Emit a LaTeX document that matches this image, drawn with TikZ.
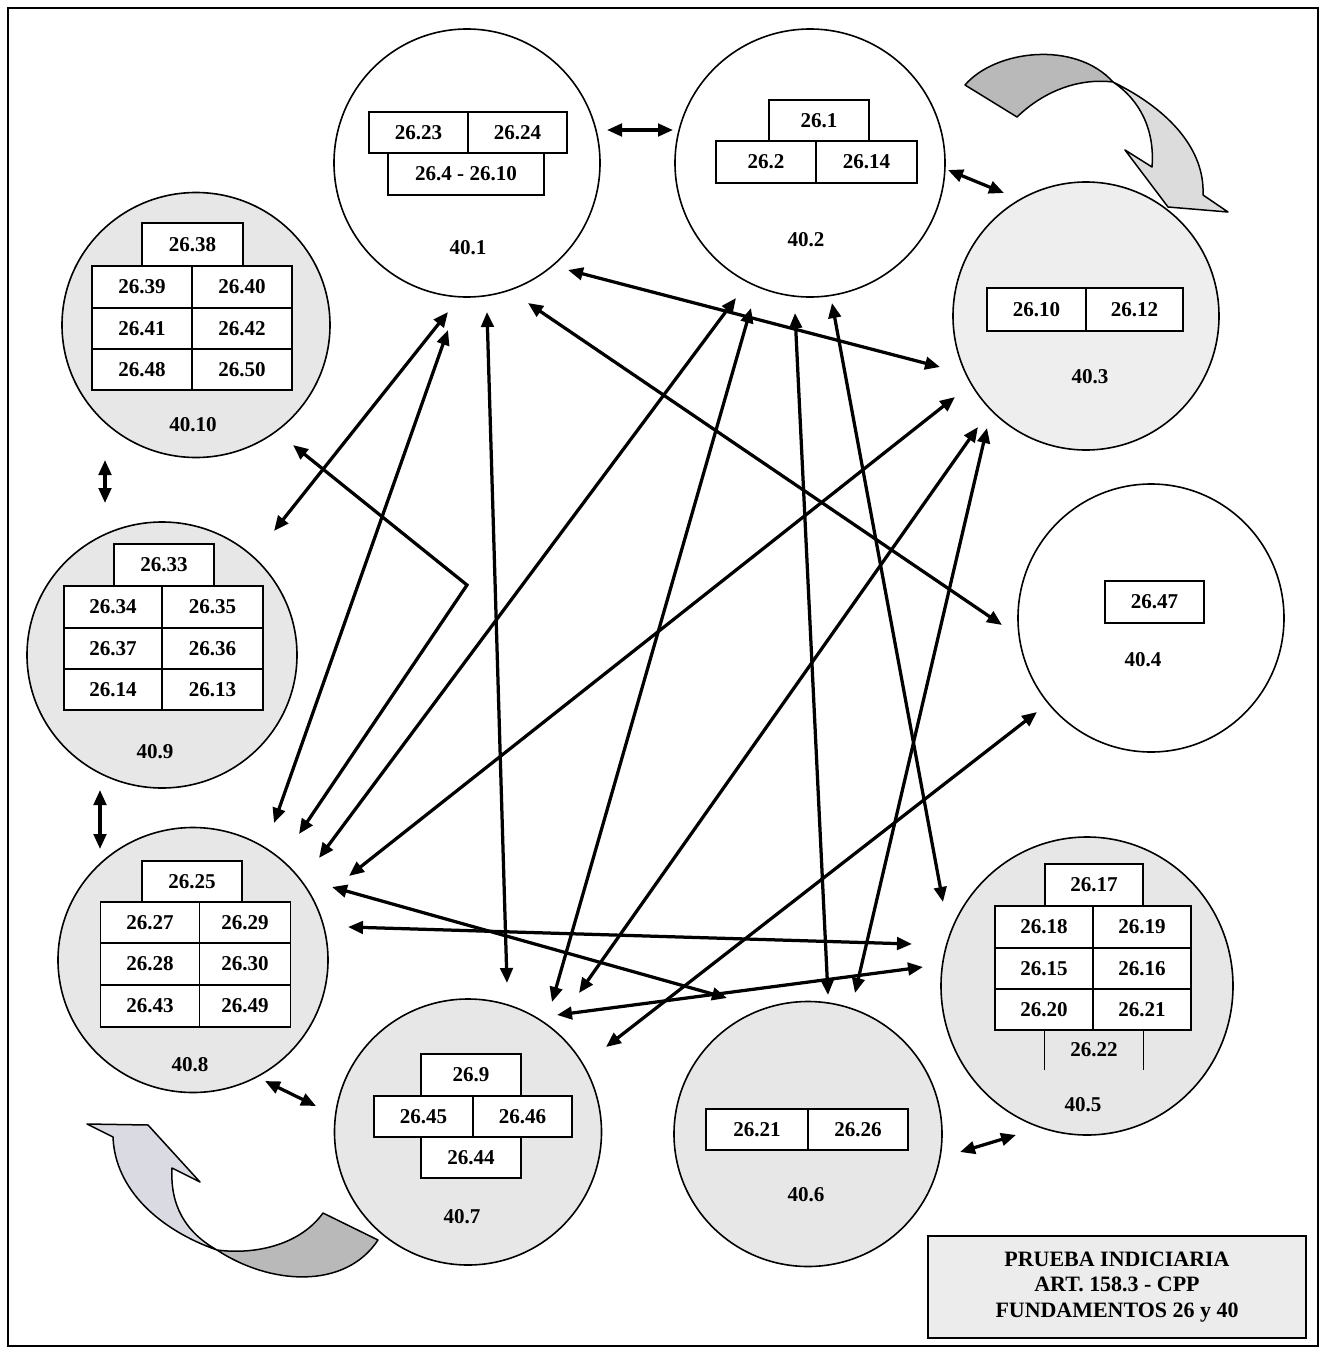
\documentclass[tikz,border=0pt]{standalone}
\usepackage{fontspec}
\setmainfont{Liberation Serif}
\usetikzlibrary{arrows.meta,shapes.geometric}
\newlength{\px}
\setlength{\px}{0.02cm}
\definecolor{bubgray}{HTML}{E7E7E7}
\definecolor{bubgraylight}{HTML}{EEEEEE}
\definecolor{darkbend}{HTML}{B9B9B9}
\definecolor{lightbendA}{HTML}{DCDCDC}
\definecolor{lightbendB}{HTML}{DADAE2}
\definecolor{legendgray}{HTML}{ECECEC}
\tikzset{
  bub/.style 2 args={ellipse, draw, line width=1.6\px, minimum width=#1\px, minimum height=#2\px, inner sep=0pt},
  cell/.style 2 args={draw, fill=white, line width=1.5\px, minimum width=#1\px, minimum height=#2\px, inner sep=0pt, font=\fontsize{12}{13}\selectfont\bfseries},
  lab/.style={font=\fontsize{12}{13}\selectfont\bfseries, inner sep=0pt},
  tipT/.tip={Triangle[length=0.3cm,width=0.25cm]},
  arr/.style={line width=0.065cm, tipT-tipT},
  blockarrow/.style={draw, line width=1.5\px, line join=round}
}
\begin{document}
\begin{tikzpicture}[x=0.02cm,y=-0.02cm]
\useasboundingbox (0,0) rectangle (1325,1356);
\draw[line width=1.8\px] (8,8) rectangle (1318,1346);

% curved block arrows
\path[blockarrow, fill=darkbend] (965,85) .. controls (995,50) and (1075,40) .. (1113,82)
  .. controls (1080,78) and (1045,90) .. (1017,117) -- cycle;
\path[blockarrow, fill=lightbendA] (1113,82) .. controls (1170,110) and (1205,150) .. (1203,195)
  -- (1228,212) -- (1168,207) -- (1125,150) -- (1152,167)
  .. controls (1155,130) and (1140,100) .. (1113,82) -- cycle;
\path[blockarrow, fill=lightbendB] (113,1137) -- (87,1124) -- (148,1125) -- (200,1182) -- (172,1168)
  .. controls (170,1205) and (185,1232) .. (217,1250)
  .. controls (160,1230) and (115,1190) .. (113,1137) -- cycle;
\path[blockarrow, fill=darkbend] (217,1250) .. controls (270,1285) and (345,1290) .. (378,1240)
  -- (323,1213) .. controls (300,1245) and (255,1255) .. (217,1250) -- cycle;

% bubbles
\node[bub={266}{268}, fill=white] (c1) at (467,163) {};
\node[bub={270}{268}, fill=white] (c2) at (810,163) {};
\node[bub={266}{268}, fill=bubgraylight] (c3) at (1086,316) {};
\node[bub={266}{268}, fill=white] (c4) at (1151,618) {};
\node[bub={292}{298}, fill=bubgray] (c5) at (1087,986) {};
\node[bub={268}{265}, fill=bubgray] (c6) at (808,1134) {};
\node[bub={267}{266}, fill=bubgray] (c7) at (468,1132) {};
\node[bub={270}{265}, fill=bubgray] (c8) at (193,960) {};
\node[bub={270}{266}, fill=bubgray] (c9) at (162,655) {};
\node[bub={268}{265}, fill=bubgray] (c10) at (196,325) {};

% 40.1
\node[cell={99}{41}] (c1a) at (418.5,132.5) {26.23};
\node[cell={99}{41}] (c1b) at (517.5,132.5) {26.24};
\node[cell={156}{42}] (c1c) at (466,174) {26.4 - 26.10};
\node[lab] (l1) at (468,248) {40.1};
% 40.2
\node[cell={100}{41}] (c2a) at (819,120.5) {26.1};
\node[cell={100}{42}] (c2b) at (766,162) {26.2\hspace{10\px}};
\node[cell={101}{42}] (c2c) at (866.5,162) {26.14};
\node[lab] (l2) at (806,240) {40.2};
% 40.3
\node[cell={99}{43}] (c3a) at (1036.5,309.5) {26.10};
\node[cell={97}{43}] (c3b) at (1134.5,309.5) {26.12};
\node[lab] (l3) at (1090,377) {40.3};
% 40.4
\node[cell={99}{42}] (c4a) at (1154.5,602) {26.47};
\node[lab] (l4) at (1143,660) {40.4};
% 40.5
\node[cell={98}{42}] (c5a) at (1094,885) {26.17};
\node[cell={98}{42}] (c5b) at (1044,927) {26.18};
\node[cell={98}{42}] (c5c) at (1142,927) {26.19};
\node[cell={98}{41}] (c5d) at (1044,968.5) {26.15};
\node[cell={98}{41}] (c5e) at (1142,968.5) {26.16};
\node[cell={98}{41}] (c5f) at (1044,1009.5) {26.20};
\node[cell={98}{41}] (c5g) at (1142,1009.5) {26.21};
\node[lab, minimum width=98\px, minimum height=40\px] (c5h) at (1094,1050) {26.22};
\draw[line width=1.5\px] (c5h.north west) -- (c5h.south west) (c5h.north east) -- (c5h.south east);
\node[lab] (l5) at (1083,1105) {40.5};
% 40.6
\node[cell={102}{41}] (c6a) at (757,1129.5) {26.21};
\node[cell={100}{41}] (c6b) at (858,1129.5) {26.26};
\node[lab] (l6) at (806,1195) {40.6};
% 40.7
\node[cell={100}{42}] (c7a) at (471,1075) {26.9};
\node[cell={99}{41}] (c7b) at (423.5,1116.5) {26.45};
\node[cell={99}{41}] (c7c) at (522.5,1116.5) {26.46};
\node[cell={100}{41}] (c7d) at (471,1157.5) {26.44};
\node[lab] (l7) at (462,1217) {40.7};
% 40.8
\node[cell={100}{41}] (c8a) at (192,881.5) {26.25};
\node[cell={99}{41}] (c8b) at (150,922.5) {26.27};
\node[cell={91}{41}] (c8c) at (245,922.5) {26.29};
\node[cell={99}{42}] (c8d) at (150,964) {26.28};
\node[cell={91}{42}] (c8e) at (245,964) {26.30};
\node[cell={99}{42}] (c8f) at (150,1006) {26.43};
\node[cell={91}{42}] (c8g) at (245,1006) {26.49};
\node[lab] (l8) at (190,1065) {40.8};
% 40.9
\node[cell={100}{42}] (c9a) at (164,565) {26.33};
\node[cell={98}{42}] (c9b) at (113,607) {26.34};
\node[cell={101}{42}] (c9c) at (212.5,607) {26.35};
\node[cell={98}{41}] (c9d) at (113,648.5) {26.37};
\node[cell={101}{41}] (c9e) at (212.5,648.5) {26.36};
\node[cell={98}{41}] (c9f) at (113,689.5) {26.14};
\node[cell={101}{41}] (c9g) at (212.5,689.5) {26.13};
\node[lab] (l9) at (155,752) {40.9};
% 40.10
\node[cell={101}{43}] (c10a) at (192.5,244.5) {26.38};
\node[cell={100}{42}] (c10b) at (142,287) {26.39};
\node[cell={100}{42}] (c10c) at (242,287) {26.40};
\node[cell={100}{41}] (c10d) at (142,328.5) {26.41};
\node[cell={100}{41}] (c10e) at (242,328.5) {26.42};
\node[cell={100}{41}] (c10f) at (142,369.5) {26.48};
\node[cell={100}{41}] (c10g) at (242,369.5) {26.50};
\node[lab] (l10) at (193,425) {40.10};

% legend
\node[draw, fill=legendgray, line width=1.5\px, minimum width=378\px, minimum height=102\px, align=center,
  font=\fontsize{12.5}{14.5}\selectfont\bfseries] (legend) at (1117,1287)
  {PRUEBA INDICIARIA\\ART. 158.3 - CPP\\FUNDAMENTOS 26 y 40};

% arrow end points
\coordinate (s1a) at (607,130);  \coordinate (s1b) at (673,130);
\coordinate (s2a) at (948,170);  \coordinate (s2b) at (1004,193);
\coordinate (s3a) at (105,460);  \coordinate (s3b) at (105,503);
\coordinate (s4a) at (100,790);  \coordinate (s4b) at (100,849);
\coordinate (s5a) at (265,1081); \coordinate (s5b) at (316,1106);
\coordinate (s6a) at (960,1152); \coordinate (s6b) at (1016,1135);
\coordinate (a1a) at (568,270);  \coordinate (a1b) at (940,367);
\coordinate (a2a) at (528,303);  \coordinate (a2b) at (1002,625);
\coordinate (a3a) at (487,312);  \coordinate (a3b) at (507,983);
\coordinate (a4a) at (448,312);  \coordinate (a4b) at (274,531);
\coordinate (a5a) at (448,330);  \coordinate (a5b) at (274,823);
\coordinate (a6a) at (293,445);  \coordinate (a6k) at (467,585); \coordinate (a6b) at (299,834);
\coordinate (a7a) at (736,298);  \coordinate (a7b) at (319,858);
\coordinate (a8a) at (751,308);  \coordinate (a8b) at (552,1002);
\coordinate (a9a) at (795,313);  \coordinate (a9b) at (828,995);
\coordinate (a10a) at (832,303); \coordinate (a10b) at (943,902);
\coordinate (a11a) at (955,397); \coordinate (a11b) at (349,876);
\coordinate (a12a) at (978,427); \coordinate (a12b) at (579,993);
\coordinate (a13a) at (987,428); \coordinate (a13b) at (855,993);
\coordinate (a14a) at (1037,712); \coordinate (a14b) at (606,1047);
\coordinate (a15a) at (912,944); \coordinate (a15b) at (348,927);
\coordinate (a16a) at (923,967); \coordinate (a16b) at (557,1015);
\coordinate (a17a) at (727,998); \coordinate (a17b) at (332,887);

\draw[arr] (s1a) -- (s1b);
\draw[arr] (s2a) -- (s2b);
\draw[arr] (s3a) -- (s3b);
\draw[arr] (s4a) -- (s4b);
\draw[arr] (s5a) -- (s5b);
\draw[arr] (s6a) -- (s6b);
\draw[arr] (a1a) -- (a1b);
\draw[arr] (a2a) -- (a2b);
\draw[arr] (a3a) -- (a3b);
\draw[arr] (a4a) -- (a4b);
\draw[arr] (a5a) -- (a5b);
\draw[arr, line join=miter] (a6a) -- (a6k) -- (a6b);
\draw[arr] (a7a) -- (a7b);
\draw[arr] (a8a) -- (a8b);
\draw[arr] (a9a) -- (a9b);
\draw[arr] (a10a) -- (a10b);
\draw[arr] (a11a) -- (a11b);
\draw[arr] (a12a) -- (a12b);
\draw[arr] (a13a) -- (a13b);
\draw[arr] (a14a) -- (a14b);
\draw[arr] (a15a) -- (a15b);
\draw[arr] (a16a) -- (a16b);
\draw[arr] (a17a) -- (a17b);
\end{tikzpicture}
\end{document}
